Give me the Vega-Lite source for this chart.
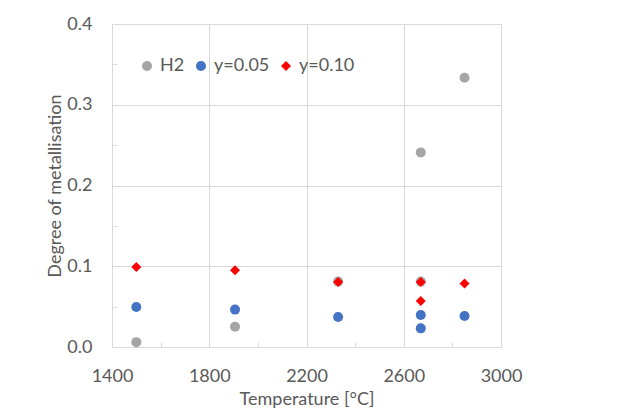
{
  "$schema": "https://vega.github.io/schema/vega-lite/v6.json",
  "width": 389,
  "height": 323,
  "autosize": {"type": "none"},
  "padding": {"left": 112, "top": 24, "right": 127, "bottom": 65},
  "config": {
    "font": "Lato",
    "view": {"stroke": null},
    "axis": {"labelColor": "#595959", "titleColor": "#595959", "labelFontSize": 18, "titleFontSize": 18, "titleFontWeight": "normal", "gridColor": "#D9D9D9", "domainColor": "#D9D9D9", "tickColor": "#D9D9D9"}
  },
  "data": {"values": [
    {"T": 1500, "v": 0.006, "s": "H2"},
    {"T": 1906, "v": 0.025, "s": "H2"},
    {"T": 2330, "v": 0.081, "s": "H2"},
    {"T": 2670, "v": 0.241, "s": "H2"},
    {"T": 2670, "v": 0.081, "s": "H2"},
    {"T": 2850, "v": 0.3335, "s": "H2"},
    {"T": 1500, "v": 0.0496, "s": "y=0.05"},
    {"T": 1906, "v": 0.0463, "s": "y=0.05"},
    {"T": 2330, "v": 0.0372, "s": "y=0.05"},
    {"T": 2670, "v": 0.0397, "s": "y=0.05"},
    {"T": 2670, "v": 0.0231, "s": "y=0.05"},
    {"T": 2850, "v": 0.0384, "s": "y=0.05"},
    {"T": 1500, "v": 0.0992, "s": "y=0.10"},
    {"T": 1906, "v": 0.095, "s": "y=0.10"},
    {"T": 2330, "v": 0.0806, "s": "y=0.10"},
    {"T": 2670, "v": 0.0806, "s": "y=0.10"},
    {"T": 2670, "v": 0.057, "s": "y=0.10"},
    {"T": 2850, "v": 0.0785, "s": "y=0.10"}
  ]},
  "mark": {"type": "point", "filled": true, "opacity": 1},
  "encoding": {
    "x": {"field": "T", "type": "quantitative", "scale": {"domain": [1400, 3000], "nice": false, "zero": false},
      "axis": {"values": [1400, 1600, 1800, 2000, 2200, 2400, 2600, 2800, 3000], "title": "Temperature [°C]", "labelPadding": 20, "titlePadding": 5, "labelFlush": false,
        "labelExpr": "datum.value % 400 == 0 ? '' : format(datum.value, 'd')",
        "gridOpacity": {"condition": {"test": "datum.value % 400 == 0", "value": 0}, "value": 1},
        "tickSize": {"condition": {"test": "datum.value % 400 == 0", "value": -5}, "value": 0}}},
    "y": {"field": "v", "type": "quantitative", "scale": {"domain": [0, 0.4], "nice": false},
      "axis": {"values": [0, 0.05, 0.1, 0.15, 0.2, 0.25, 0.3, 0.35, 0.4], "title": "Degree of metallisation", "labelPadding": 20, "titlePadding": 2,
        "labelExpr": "round(datum.value * 20) % 2 == 1 ? '' : format(datum.value, '.1f')",
        "gridOpacity": {"condition": {"test": "round(datum.value * 20) % 2 == 1", "value": 0}, "value": 1},
        "tickSize": {"condition": {"test": "round(datum.value * 20) % 2 == 1", "value": -5}, "value": 0}}},
    "color": {"field": "s", "type": "nominal", "scale": {"domain": ["H2", "y=0.05", "y=0.10"], "range": ["#A5A5A5", "#4472C4", "#FF0000"]},
      "legend": {"title": null, "orient": "none", "legendX": 26, "legendY": 33, "direction": "horizontal", "labelFontSize": 18, "labelColor": "#595959", "symbolSize": 90, "columnPadding": 7, "labelOffset": 4}},
    "shape": {"field": "s", "type": "nominal", "scale": {"domain": ["H2", "y=0.05", "y=0.10"], "range": ["circle", "circle", "diamond"]}},
    "size": {"field": "s", "type": "nominal", "scale": {"domain": ["H2", "y=0.05", "y=0.10"], "range": [100, 100, 100]}, "legend": null}
  }
}
